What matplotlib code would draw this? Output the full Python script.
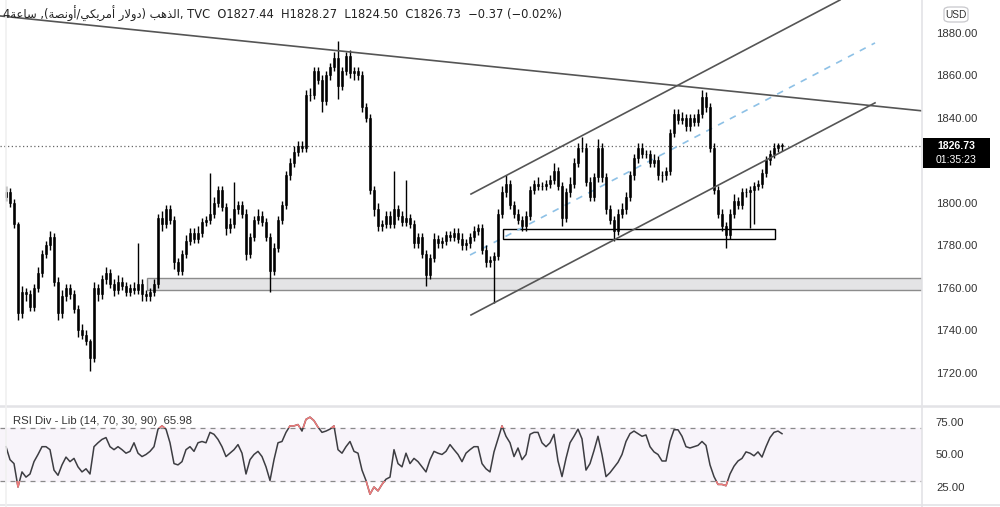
import matplotlib
matplotlib.use("Agg")
import matplotlib.pyplot as plt
from matplotlib.patches import Rectangle, FancyBboxPatch
from matplotlib.lines import Line2D

# 4h gold candles (open of each bar = previous close)
first_open = 1803.0
closes = [
    1805, 1800, 1790, 1748, 1758, 1757, 1751, 1760, 1767, 1776,
    1780, 1784, 1763, 1748, 1756, 1760, 1757, 1750, 1740, 1738,
    1735, 1727, 1760, 1757, 1764, 1767, 1762, 1759, 1763, 1761,
    1758, 1760, 1759, 1762, 1757, 1756, 1758, 1762, 1793, 1790,
    1797, 1792, 1772, 1768, 1776, 1782, 1786, 1783, 1786, 1791,
    1792, 1795, 1800, 1806, 1798, 1788, 1790, 1797, 1799, 1795,
    1776, 1784, 1792, 1794, 1791, 1784, 1768, 1779, 1792, 1799,
    1813, 1819, 1824, 1827, 1826, 1851, 1851, 1862, 1858, 1848,
    1860, 1864, 1868, 1855, 1862, 1869, 1861, 1862, 1860, 1845,
    1840, 1806, 1797, 1789, 1790, 1794, 1790, 1797, 1794, 1791,
    1793, 1790, 1781, 1784, 1776, 1766, 1774, 1783, 1781, 1782,
    1785, 1784, 1786, 1783, 1780, 1781, 1784, 1787, 1788, 1778,
    1772, 1773, 1775, 1795, 1805, 1809, 1799, 1795, 1792, 1789,
    1794, 1806, 1809, 1808, 1808, 1809, 1811, 1815, 1808, 1793,
    1805, 1809, 1819, 1826, 1826, 1810, 1803, 1812, 1826, 1812,
    1797, 1792, 1787, 1795, 1797, 1803, 1813, 1821, 1826, 1823,
    1823, 1819, 1820, 1813, 1813, 1815, 1833, 1842, 1839, 1840,
    1836, 1840, 1838, 1842, 1850, 1845, 1826, 1806, 1795, 1789,
    1785, 1795, 1801, 1799, 1805, 1805, 1806, 1808, 1809, 1814,
    1820, 1823, 1826, 1827.44, 1826.73,
]
upper_wick = [
    3, 2, 2, 1, 3, 2, 2, 2, 3, 2,
    2, 3, 2, 2, 3, 2, 2, 2, 2, 3,
    2, 1, 3, 2, 2, 3, 2, 2, 3, 2,
    2, 2, 3, 19, 2, 2, 2, 2, 2, 3,
    2, 2, 2, 2, 2, 3, 2, 2, 3, 2,
    2, 19, 3, 2, 2, 2, 3, 13, 2, 2,
    2, 2, 2, 3, 2, 2, 2, 2, 2, 2,
    2, 2, 3, 2, 2, 2, 3, 2, 2, 2,
    2, 2, 3, 8, 2, 2, 3, 2, 2, 2,
    2, 2, 2, 3, 2, 2, 2, 18, 2, 2,
    18, 2, 2, 2, 2, 2, 2, 3, 2, 2,
    2, 2, 2, 2, 3, 2, 2, 2, 2, 2,
    2, 2, 2, 2, 3, 4, 2, 2, 2, 2,
    2, 2, 2, 3, 2, 2, 2, 4, 2, 2,
    2, 3, 2, 2, 5, 2, 2, 2, 4, 2,
    2, 2, 2, 2, 3, 2, 2, 2, 2, 2,
    2, 2, 3, 2, 2, 2, 2, 2, 2, 3,
    2, 2, 2, 2, 3, 2, 2, 2, 2, 2,
    2, 2, 3, 2, 2, 2, 2, 2, 2, 2,
    2, 2, 2, 1, 0.83,
]
lower_wick = [
    2, 2, 2, 3, 2, 3, 2, 2, 2, 2,
    2, 2, 2, 3, 2, 2, 2, 2, 3, 2,
    2, 6, 2, 3, 2, 2, 2, 3, 2, 2,
    2, 2, 2, 2, 3, 2, 2, 2, 2, 3,
    2, 2, 3, 2, 2, 2, 2, 2, 2, 2,
    2, 2, 2, 2, 2, 3, 2, 2, 2, 2,
    3, 2, 2, 2, 2, 2, 10, 2, 2, 2,
    2, 2, 2, 2, 2, 2, 3, 2, 2, 5,
    2, 2, 2, 6, 2, 2, 2, 3, 2, 2,
    2, 2, 3, 2, 2, 2, 2, 2, 2, 2,
    2, 2, 2, 2, 2, 5, 2, 2, 2, 2,
    2, 2, 2, 2, 2, 2, 2, 2, 2, 2,
    2, 2, 20, 2, 2, 2, 2, 2, 2, 2,
    2, 2, 2, 2, 2, 2, 2, 2, 2, 4,
    2, 2, 2, 2, 2, 2, 2, 2, 2, 2,
    2, 2, 5, 2, 2, 2, 2, 2, 2, 2,
    2, 2, 2, 2, 3, 2, 2, 2, 2, 2,
    2, 2, 2, 2, 2, 2, 2, 2, 2, 2,
    6, 2, 2, 2, 2, 2, 17, 16, 2, 2,
    2, 2, 2, 2, 2.23,
]
rsi = [
    56, 46, 43, 25, 36.6, 32.6, 35, 44.5, 50, 56,
    56, 53.7, 38, 34, 42, 48, 44.5, 47, 40.5, 36.6,
    39, 35, 56, 59, 61.6, 63, 56, 53.7, 56, 53.7,
    51, 52.4, 59, 51, 48.4, 50, 52.4, 56, 69.5, 72,
    69.5, 59, 43, 42, 44.5, 53.7, 56, 52.4, 59, 60,
    59, 67, 65.5, 61.6, 56, 48.4, 51, 53.7, 57.6, 51,
    35, 46, 50, 52.4, 48.4, 40.5, 30, 46, 59, 60,
    67, 72, 72, 73, 68, 77, 78.7, 76, 71, 67,
    68, 69.5, 72, 53.7, 51, 56, 60, 52.4, 51, 38,
    30, 19.5, 25, 22, 27, 31, 32.6, 53.7, 43, 40.5,
    51, 43, 47, 44.5, 40.5, 36.6, 46, 52.4, 51, 50,
    52.4, 57.6, 53.7, 50, 44.5, 51, 53.7, 56, 56, 43,
    39, 36.6, 52, 62, 72, 64, 59, 48.4, 55, 46,
    50, 65.5, 67, 67, 59, 56, 59, 65.5, 45, 33,
    47, 59, 64, 69.5, 62, 38, 43, 53, 64, 50,
    33, 36, 40, 44, 50, 60, 66, 68, 66, 64,
    65, 56, 52, 50, 45, 45, 60, 69, 69, 64,
    56, 55, 56, 57, 60, 57, 42, 33, 27, 27,
    26, 35, 41, 45, 47, 52, 51, 49, 52, 48,
    56, 63, 67, 68, 65.98,
]

# drawings on the chart, (bar index, price)
resistance_line = [(-1.5, 1888.0), (229.25, 1843.3)]
channel_upper = [(116.25, 1804.2), (208.5, 1895.5)]
channel_lower = [(116.25, 1747.3), (217.25, 1847.1)]
channel_mid = [(116.0, 1775.5), (217.25, 1875.3)]
range_box = (124.25, 192.25, 1783.1, 1787.8)
support_zone = (35.25, 229.0, 1759.1, 1764.7)
last_price = 1826.73
price_ticks = [1720, 1740, 1760, 1780, 1800, 1820, 1840, 1860, 1880]
rsi_ticks = [25, 50, 75]
rsi_bands = (30, 70)

# arabic letters: isolated, final, initial, medial presentation forms
AR_FORMS = {
    "ا": ("\ufe8d", "\ufe8e", None, None),
    "أ": ("\ufe83", "\ufe84", None, None),
    "ذ": ("\ufeab", "\ufeac", None, None),
    "د": ("\ufea9", "\ufeaa", None, None),
    "و": ("\ufeed", "\ufeee", None, None),
    "ر": ("\ufead", "\ufeae", None, None),
    "ة": ("\ufe93", "\ufe94", None, None),
    "ل": ("\ufedd", "\ufede", "\ufedf", "\ufee0"),
    "ه": ("\ufee9", "\ufeea", "\ufeeb", "\ufeec"),
    "ب": ("\ufe8f", "\ufe90", "\ufe91", "\ufe92"),
    "م": ("\ufee1", "\ufee2", "\ufee3", "\ufee4"),
    "ي": ("\ufef1", "\ufef2", "\ufef3", "\ufef4"),
    "ك": ("\ufed9", "\ufeda", "\ufedb", "\ufedc"),
    "ن": ("\ufee5", "\ufee6", "\ufee7", "\ufee8"),
    "ص": ("\ufeb9", "\ufeba", "\ufebb", "\ufebc"),
    "س": ("\ufeb1", "\ufeb2", "\ufeb3", "\ufeb4"),
    "ع": ("\ufec9", "\ufeca", "\ufecb", "\ufecc"),
}


def shape_ar(word):
    # join letters and flip to visual order, matplotlib has no bidi
    out = []
    i = 0
    while i < len(word):
        ch = word[i]
        prev_joins = i > 0 and AR_FORMS[word[i - 1]][2] is not None
        if ch == "ل" and i + 1 < len(word) and word[i + 1] == "ا":
            out.append("\ufefc" if prev_joins else "\ufefb")
            i += 2
            continue
        iso, fin, ini, med = AR_FORMS[ch]
        next_joins = i + 1 < len(word) and ini is not None
        if prev_joins and next_joins:
            out.append(med)
        elif prev_joins:
            out.append(fin)
        elif next_joins:
            out.append(ini)
        else:
            out.append(iso)
        i += 1
    return "".join(reversed(out))


W, H = 1000, 507
fig = plt.figure(figsize=(W / 100, H / 100), dpi=100)
fig.patch.set_facecolor("white")

ax = fig.add_axes([0, 102 / H, 922 / W, 405 / H])
ax_r = fig.add_axes([0, 2 / H, 922 / W, 98 / H])

# candles
xs = list(range(len(closes)))
opens = [first_open] + closes[:-1]
highs = [max(o, c) + u for o, c, u in zip(opens, closes, upper_wick)]
lows = [min(o, c) - d for o, c, d in zip(opens, closes, lower_wick)]
ax.vlines(xs, lows, highs, color="black", lw=1.0, zorder=4)
ax.bar(xs, [c - o for o, c in zip(opens, closes)], bottom=opens, width=0.55,
       color="black", edgecolor="black", lw=0.4, zorder=5)

# zones
x0, x1, y0, y1 = support_zone
ax.add_patch(Rectangle((x0, y0), x1 - x0, y1 - y0, facecolor="#e4e4e6",
                       edgecolor="#8c8c8c", lw=1.0, zorder=2))
x0, x1, y0, y1 = range_box
ax.add_patch(Rectangle((x0, y0), x1 - x0, y1 - y0, facecolor="white",
                       edgecolor="black", lw=1.0, zorder=3))

# trend lines
for pts in (resistance_line, channel_upper, channel_lower):
    ax.plot([p[0] for p in pts], [p[1] for p in pts], color="#555555", lw=1.2, zorder=6)
ax.plot([p[0] for p in channel_mid], [p[1] for p in channel_mid], color="#8ec1e6",
        lw=1.2, ls=(0, (4, 4)), zorder=3)
ax.axhline(last_price, color="#666666", lw=0.9, ls=(0, (1, 2)), zorder=1)

ax.set_xlim(-1.5, 229)
ax.set_ylim(1704.94, 1895.5)
ax.set_yticks(price_ticks)
ax.set_yticklabels([f"{t:.2f}" for t in price_ticks])
ax.set_xticks([])
for a in (ax, ax_r):
    a.yaxis.tick_right()
    a.tick_params(axis="y", length=0, pad=10, labelsize=8.2, labelcolor="#333333")
    for s in a.spines.values():
        s.set_visible(False)
    for lbl in a.get_yticklabels():
        lbl.set_fontfamily("Liberation Sans")

# RSI panel
lo, hi = rsi_bands
ax_r.axhspan(lo, hi, color="#f8f4fa", zorder=0)
ax_r.axhline(hi, color="#8a8a8a", lw=0.9, ls=(0, (4, 4)))
ax_r.axhline(lo, color="#8a8a8a", lw=0.9, ls=(0, (4, 4)))
ax_r.plot(xs, rsi, color="#3d3d42", lw=1.1, zorder=3)
for clo, chi in ((hi, 100), (0, lo)):
    ln, = ax_r.plot(xs, rsi, color="#ef7b7b", lw=1.1, zorder=4)
    ln.set_clip_path(Rectangle((-10, clo), 300, chi - clo, transform=ax_r.transData))
ax_r.set_xlim(-1.5, 229)
ax_r.set_ylim(11.17, 86.5)
ax_r.set_xticks([])
ax_r.set_yticks(rsi_ticks)
ax_r.set_yticklabels([f"{t:.2f}" for t in rsi_ticks])
for lbl in ax_r.get_yticklabels():
    lbl.set_fontfamily("Liberation Sans")
ax_r.text(13 / 922, 1 - 14 / 98, "RSI Div - Lib (14, 70, 30, 90)  65.98",
          transform=ax_r.transAxes, fontsize=8.2, color="#333333",
          family="Liberation Sans", va="center")

# frame lines
sep = "#e3e3e6"
fig.add_artist(Line2D([0, 1], [1 - 406 / H, 1 - 406 / H], color=sep, lw=1.8))
fig.add_artist(Line2D([0, 1], [1 - 505 / H, 1 - 505 / H], color=sep, lw=1.2))
fig.add_artist(Line2D([922 / W, 922 / W], [0, 1], color=sep, lw=1.2))
fig.add_artist(Line2D([5.5 / W, 5.5 / W], [0, 1], color="#f0f0f0", lw=1.2))

# header
header = ("4" + shape_ar("ساعة") + " ,(" + shape_ar("أونصة") + "/" + shape_ar("أمريكي")
          + " " + shape_ar("دولار") + ") " + shape_ar("الذهب") + ", TVC  O1827.44  H1828.27"
          + "  L1824.50  C1826.73  −0.37 (−0.02%)")
fig.text(3 / W, 1 - 14 / H, header, fontsize=8.3, color="#222222",
         family=["DejaVu Sans"], va="center")

# last price tag and currency badge
fig.add_artist(Rectangle((923 / W, 1 - 168 / H), 67 / W, 30 / H, facecolor="black",
                         edgecolor="none", transform=fig.transFigure))
fig.text(956 / W, 1 - 146 / H, f"{last_price:.2f}", color="white", fontsize=7.6,
         fontweight="bold", ha="center", va="center", family="Liberation Sans")
fig.text(956 / W, 1 - 160 / H, "01:35:23", color="white", fontsize=7.6,
         ha="center", va="center", family="Liberation Sans")
fig.add_artist(FancyBboxPatch((944 / W, 1 - 22 / H), 24 / W, 15 / H,
                              boxstyle="round,pad=0,rounding_size=0.006",
                              facecolor="white", edgecolor="#c8c8cc", lw=0.9,
                              transform=fig.transFigure))
fig.text(956 / W, 1 - 14.5 / H, "USD", color="#333333", fontsize=7.3,
         ha="center", va="center", family="Liberation Sans")

fig.savefig("out.png", dpi=100)
